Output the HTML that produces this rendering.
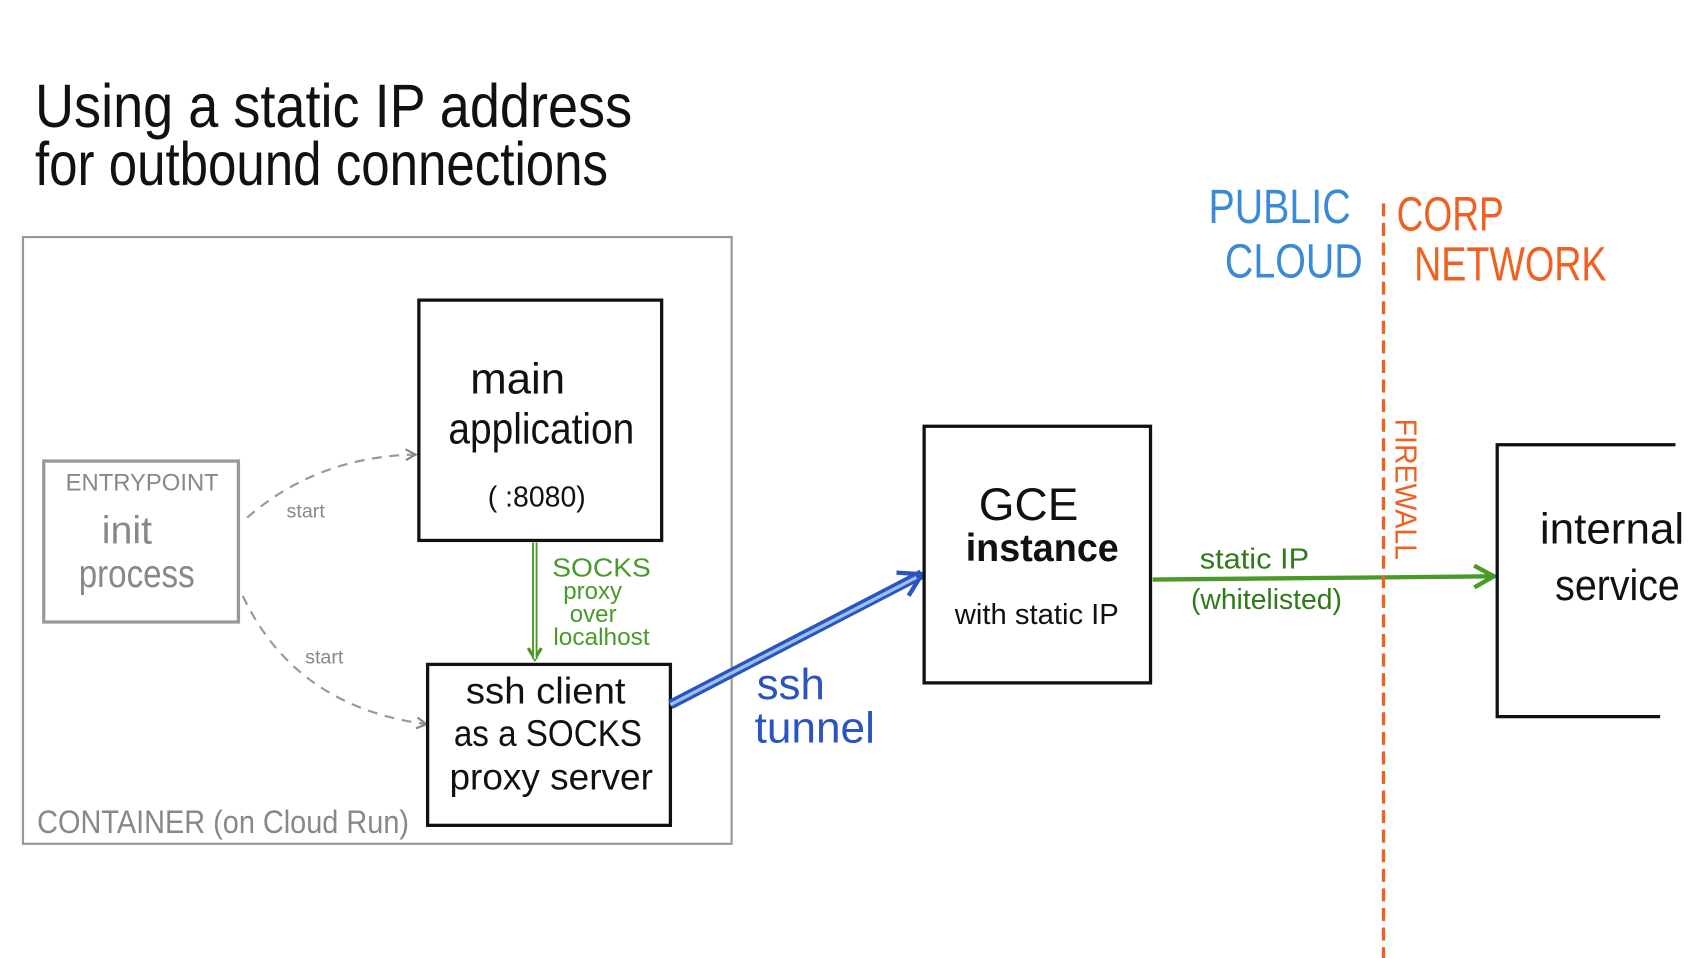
<!DOCTYPE html>
<html><head><meta charset="utf-8"><style>
html,body{margin:0;padding:0;background:#fff;width:1705px;height:958px;overflow:hidden}
svg{display:block}
text{font-family:"Liberation Sans Narrow","Liberation Sans",sans-serif}
</style></head><body>
<svg width="1705" height="958" viewBox="0 0 1559 881" preserveAspectRatio="none">
<defs>
<marker id="ag" markerWidth="12" markerHeight="12" refX="10" refY="6" orient="auto" markerUnits="userSpaceOnUse"><path d="M1,1 L10,6 L1,11" fill="none" stroke="#888" stroke-width="2"/></marker>
<marker id="agr" markerWidth="24" markerHeight="24" refX="20" refY="12" orient="auto" markerUnits="userSpaceOnUse"><path d="M2,2 L20,12 L2,22" fill="none" stroke="#4a9a2a" stroke-width="4"/></marker>
<marker id="agr2" markerWidth="16" markerHeight="16" refX="12" refY="8" orient="auto" markerUnits="userSpaceOnUse"><path d="M2,2 L12,8 L2,14" fill="none" stroke="#4a9a2a" stroke-width="3"/></marker>
<marker id="ab" markerWidth="28" markerHeight="28" refX="22" refY="14" orient="auto" markerUnits="userSpaceOnUse"><path d="M2,2 L22,14 L2,26" fill="none" stroke="#2a55c0" stroke-width="4"/></marker>
</defs>
<text x="32" y="117" font-size="56" fill="#111" textLength="546" lengthAdjust="spacingAndGlyphs">Using a static IP address</text>
<text x="32" y="170" font-size="56" fill="#111" textLength="524" lengthAdjust="spacingAndGlyphs">for outbound connections</text>

<rect x="21" y="218" width="648" height="558" fill="none" stroke="#999" stroke-width="2"/>
<text x="34" y="766" font-size="30" fill="#888" textLength="340" lengthAdjust="spacingAndGlyphs">CONTAINER (on Cloud Run)</text>

<rect x="40" y="424" width="178" height="148" fill="none" stroke="#999" stroke-width="3"/>
<text x="60" y="451" font-size="22" fill="#888" textLength="140" lengthAdjust="spacingAndGlyphs">ENTRYPOINT</text>
<text x="93" y="500" font-size="36" fill="#888">init</text>
<text x="72" y="540" font-size="36" fill="#888" textLength="106" lengthAdjust="spacingAndGlyphs">process</text>

<path d="M226,476 Q290,420 380,418" fill="none" stroke="#999" stroke-width="2" stroke-dasharray="9,7" marker-end="url(#ag)"/>
<text x="262" y="476" font-size="18" fill="#888">start</text>
<path d="M222,548 Q270,650 390,666" fill="none" stroke="#999" stroke-width="2" stroke-dasharray="9,7" marker-end="url(#ag)"/>
<text x="279" y="610" font-size="18" fill="#888">start</text>

<rect x="383" y="276" width="222" height="221" fill="none" stroke="#111" stroke-width="3"/>
<text x="430" y="362" font-size="40" fill="#111">main</text>
<text x="410" y="408" font-size="40" fill="#111" textLength="170" lengthAdjust="spacingAndGlyphs">application</text>
<text x="446" y="466" font-size="26" fill="#111">( :8080)</text>

<line x1="489" y1="499" x2="489" y2="606" stroke="#4a9a2a" stroke-width="5" marker-end="url(#agr2)"/>
<line x1="489" y1="499" x2="489" y2="606" stroke="#fff" stroke-width="1.5"/>
<text x="505" y="530" font-size="24" fill="#4a9a2a" textLength="90" lengthAdjust="spacingAndGlyphs">SOCKS</text>
<text x="515" y="551" font-size="22" fill="#4a9a2a">proxy</text>
<text x="521" y="572" font-size="22" fill="#4a9a2a">over</text>
<text x="506" y="593" font-size="22" fill="#4a9a2a" textLength="88" lengthAdjust="spacingAndGlyphs">localhost</text>

<rect x="391" y="611" width="222" height="148" fill="none" stroke="#111" stroke-width="3"/>
<text x="426" y="647" font-size="34" fill="#111" textLength="146" lengthAdjust="spacingAndGlyphs">ssh client</text>
<text x="415" y="686" font-size="34" fill="#111" textLength="172" lengthAdjust="spacingAndGlyphs">as a SOCKS</text>
<text x="411" y="726" font-size="34" fill="#111" textLength="186" lengthAdjust="spacingAndGlyphs">proxy server</text>

<line x1="613" y1="648" x2="843" y2="528" stroke="#2a55c0" stroke-width="9" marker-end="url(#ab)"/>
<line x1="613" y1="648" x2="838" y2="531" stroke="#9cc0ee" stroke-width="3"/>
<text x="692" y="643" font-size="40" fill="#2a55c0">ssh</text>
<text x="690" y="683" font-size="40" fill="#2a55c0" textLength="110" lengthAdjust="spacingAndGlyphs">tunnel</text>

<rect x="845" y="392" width="207" height="236" fill="none" stroke="#111" stroke-width="3"/>
<text x="895" y="478" font-size="42" fill="#111">GCE</text>
<text x="883" y="516" font-size="36" fill="#111" font-weight="bold" textLength="140" lengthAdjust="spacingAndGlyphs">instance</text>
<text x="873" y="574" font-size="26" fill="#111" textLength="150" lengthAdjust="spacingAndGlyphs">with static IP</text>

<line x1="1054" y1="533" x2="1366" y2="530" stroke="#4a9a2a" stroke-width="4" marker-end="url(#agr)"/>
<text x="1097" y="523" font-size="26" fill="#2f7a1a" textLength="100" lengthAdjust="spacingAndGlyphs">static IP</text>
<text x="1089" y="560" font-size="26" fill="#2f7a1a" textLength="138" lengthAdjust="spacingAndGlyphs">(whitelisted)</text>

<line x1="1265" y1="187" x2="1265" y2="881" stroke="#f06020" stroke-width="3" stroke-dasharray="12,6"/>
<text x="1105" y="205" font-size="44" fill="#3a8ad8" textLength="130" lengthAdjust="spacingAndGlyphs">PUBLIC</text>
<text x="1120" y="255" font-size="44" fill="#3a8ad8" textLength="126" lengthAdjust="spacingAndGlyphs">CLOUD</text>
<text x="1277" y="212" font-size="44" fill="#f06020" textLength="98" lengthAdjust="spacingAndGlyphs">CORP</text>
<text x="1293" y="258" font-size="44" fill="#f06020" textLength="176" lengthAdjust="spacingAndGlyphs">NETWORK</text>
<text transform="translate(1276,385) rotate(90)" font-size="28" fill="#f06020" textLength="130" lengthAdjust="spacingAndGlyphs">FIREWALL</text>

<path d="M1532,409 L1369,409 L1369,659 L1518,659" fill="none" stroke="#111" stroke-width="3"/>
<text x="1408" y="500" font-size="40" fill="#111" textLength="132" lengthAdjust="spacingAndGlyphs">internal</text>
<text x="1422" y="552" font-size="40" fill="#111" textLength="114" lengthAdjust="spacingAndGlyphs">service</text>
</svg>
</body></html>
